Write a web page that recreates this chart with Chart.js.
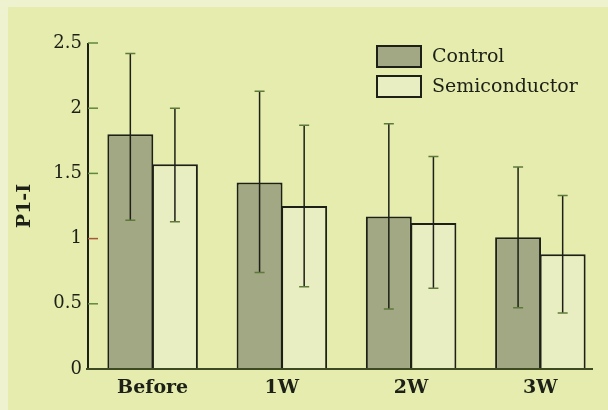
<!DOCTYPE html>
<html>
<head>
<meta charset="utf-8">
<script src="https://cdn.jsdelivr.net/npm/chart.js@4/dist/chart.umd.min.js"></script>
<style>
  html, body { margin: 0; padding: 0; background: #e5ecae; }
  #wrap { width: 608px; height: 410px; }
</style>
</head>
<body>
<div id="wrap"><canvas id="barChart" width="608" height="410"></canvas></div>
<script>
// values
const categories = ['Before', '1W', '2W', '3W'];
const control = [1.80, 1.43, 1.17, 1.01];
const controlHigh = [2.42, 2.13, 1.88, 1.55];
const controlLow = [1.14, 0.74, 0.46, 0.47];
const semi = [1.57, 1.25, 1.12, 0.88];
const semiHigh = [2.00, 1.87, 1.63, 1.33];
const semiLow = [1.13, 0.63, 0.62, 0.43];
const yTicks = [0, 0.5, 1, 1.5, 2, 2.5];

const serif = "'DejaVu Serif', 'Liberation Serif', serif";
const ink = '#1c2016';

// paper colour + lighter scan edge
const paperBg = {
    id: 'paperBg',
    beforeDraw(chart) {
        const ctx = chart.ctx;
        ctx.save();
        ctx.fillStyle = '#e5ecae';
        ctx.fillRect(0, 0, chart.width, chart.height);
        ctx.fillStyle = '#eef2cf';
        ctx.fillRect(0, 0, 8, chart.height);
        ctx.fillRect(0, 0, chart.width, 7);
        ctx.restore();
    }
};

// error bars from the high/low arrays
const errorBars = {
    id: 'errorBars',
    afterDatasetsDraw(chart) {
        const ctx = chart.ctx;
        const y = chart.scales.y;
        const highs = [controlHigh, semiHigh];
        const lows = [controlLow, semiLow];
        ctx.save();
        chart.data.datasets.forEach((ds, d) => {
            chart.getDatasetMeta(d).data.forEach((bar, i) => {
                const top = y.getPixelForValue(highs[d][i]);
                const bot = y.getPixelForValue(lows[d][i]);
                ctx.strokeStyle = ink;
                ctx.lineWidth = 1.5;
                ctx.beginPath();
                ctx.moveTo(bar.x, top);
                ctx.lineTo(bar.x, bot);
                ctx.stroke();
                ctx.strokeStyle = '#5d7a3a';
                ctx.lineWidth = 1.5;
                ctx.beginPath();
                ctx.moveTo(bar.x - 5, top);
                ctx.lineTo(bar.x + 5, top);
                ctx.moveTo(bar.x - 5, bot);
                ctx.lineTo(bar.x + 5, bot);
                ctx.stroke();
            });
        });
        ctx.restore();
    }
};

// axis lines, inward ticks, legend in the top right corner
const decorations = {
    id: 'decorations',
    afterDraw(chart) {
        const ctx = chart.ctx;
        const area = chart.chartArea;
        const y = chart.scales.y;
        ctx.save();
        ctx.strokeStyle = ink;
        ctx.lineWidth = 2;
        ctx.beginPath();
        ctx.moveTo(area.left, area.top);
        ctx.lineTo(area.left, area.bottom);
        ctx.stroke();
        ctx.strokeStyle = '#3d4a22';
        ctx.beginPath();
        ctx.moveTo(area.left - 2, area.bottom);
        ctx.lineTo(area.right - 12, area.bottom);
        ctx.stroke();

        ctx.lineWidth = 1.5;
        y.ticks.forEach((t, i) => {
            if (t.value === 0) return;
            const py = y.getPixelForTick(i);
            ctx.strokeStyle = t.value === 1 ? '#a5573a' : '#5d8a3a';
            ctx.beginPath();
            ctx.moveTo(area.left, py);
            ctx.lineTo(area.left + 10, py);
            ctx.stroke();
        });

        const lx = 377, ly = [46, 76];
        chart.data.datasets.forEach((ds, d) => {
            ctx.fillStyle = ds.backgroundColor;
            ctx.fillRect(lx, ly[d], 44, 21);
            ctx.strokeStyle = ink;
            ctx.lineWidth = 2;
            ctx.strokeRect(lx, ly[d], 44, 21);
            ctx.fillStyle = ink;
            ctx.font = '19px ' + serif;
            ctx.textBaseline = 'middle';
            ctx.textAlign = 'left';
            ctx.fillText(ds.label, lx + 55, ly[d] + 11);
        });
        ctx.restore();
    }
};

const data = {
    labels: categories,
    datasets: [{
        label: 'Control',
        data: control,
        backgroundColor: '#a2a784',
        borderColor: ink,
        borderWidth: 2,
        borderSkipped: 'bottom'
    }, {
        label: 'Semiconductor',
        data: semi,
        backgroundColor: '#e9edc2',
        borderColor: ink,
        borderWidth: 2,
        borderSkipped: 'bottom'
    }]
};

const config = {
    type: 'bar',
    data: data,
    options: {
        responsive: false,
        animation: false,
        layout: { padding: { top: 43, right: 3, left: 0, bottom: 0 } },
        plugins: {
            legend: { display: false },
            tooltip: { enabled: false }
        },
        datasets: {
            bar: { categoryPercentage: 0.69, barPercentage: 1.03 }
        },
        scales: {
            x: {
                grid: { display: false, drawTicks: false },
                border: { display: false },
                ticks: {
                    color: ink,
                    padding: 8,
                    font: { family: serif, size: 19, weight: 'bold' }
                },
                afterFit(scale) { scale.height = 41; }
            },
            y: {
                min: 0,
                max: 2.5,
                afterBuildTicks(scale) {
                    scale.ticks = yTicks.map(v => ({ value: v }));
                },
                grid: { display: false, drawTicks: false },
                border: { display: false },
                ticks: {
                    color: ink,
                    padding: 6,
                    font: { family: serif, size: 18 },
                    callback: (v) => String(v)
                },
                title: {
                    display: true,
                    text: 'P1-I',
                    color: ink,
                    padding: { top: 14, bottom: 0 },
                    font: { family: serif, size: 19, weight: 'bold' }
                },
                afterFit(scale) { scale.width = 88; }
            }
        }
    },
    plugins: [paperBg, errorBars, decorations]
};

const barChart = new Chart(document.getElementById('barChart').getContext('2d'), config);
</script>
</body>
</html>
